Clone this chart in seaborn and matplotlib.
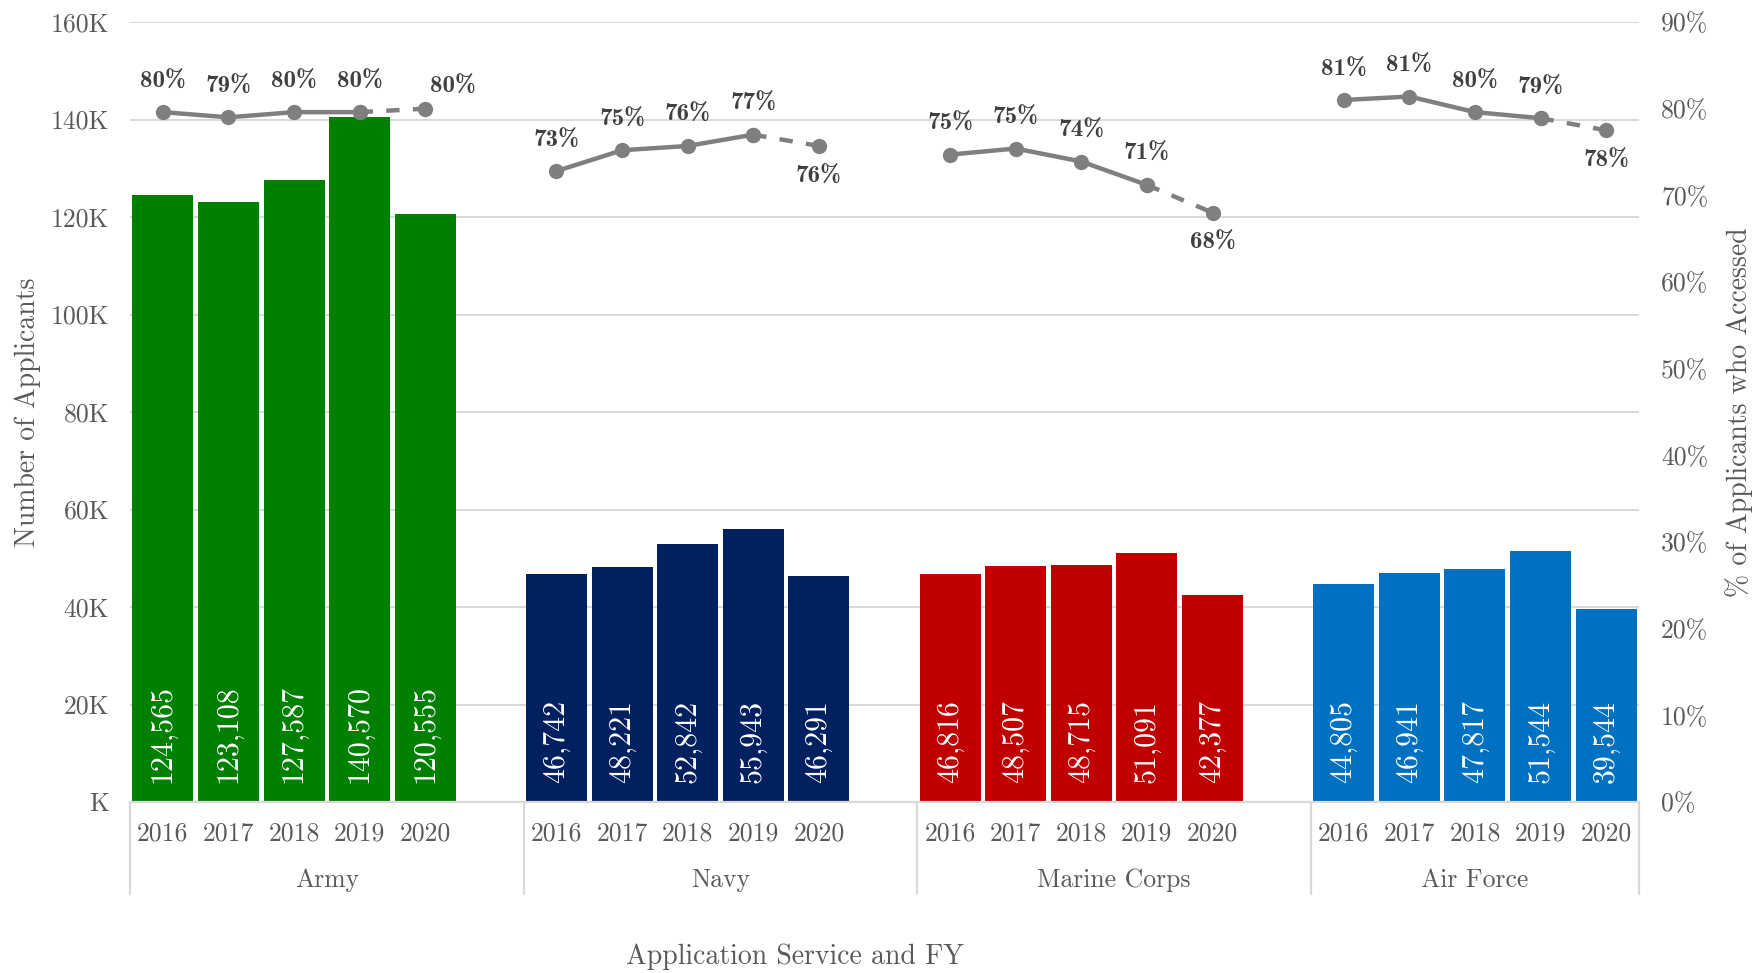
import numpy as np
import pandas as pd
import seaborn as sns
import matplotlib
matplotlib.use("Agg")
import matplotlib.pyplot as plt
import matplotlib.transforms as mtransforms
from matplotlib.patches import FancyBboxPatch

# ---------------- data ----------------
services = ["Army", "Navy", "Marine Corps", "Air Force"]
years = ["2016", "2017", "2018", "2019", "2020"]
army_applicants = [124565, 123108, 127587, 140570, 120555]
navy_applicants = [46742, 48221, 52842, 55943, 46291]
marines_applicants = [46816, 48507, 48715, 51091, 42377]
airforce_applicants = [44805, 46941, 47817, 51544, 39544]
army_pct = [79.6, 79.0, 79.6, 79.6, 80.0]
navy_pct = [72.8, 75.2, 75.7, 77.0, 75.7]
marines_pct = [74.7, 75.4, 73.9, 71.2, 68.0]
airforce_pct = [81.0, 81.4, 79.6, 78.9, 77.5]
left_ticks = [0, 20000, 40000, 60000, 80000, 100000, 120000, 140000, 160000]
left_tick_labels = ["K", "20K", "40K", "60K", "80K", "100K", "120K", "140K", "160K"]
right_ticks = [0, 10, 20, 30, 40, 50, 60, 70, 80, 90]
right_tick_labels = ["0%", "10%", "20%", "30%", "40%", "50%", "60%", "70%", "80%", "90%"]

colors = {"Army": "#008000", "Navy": "#002060", "Marine Corps": "#C00000", "Air Force": "#0070C0"}
applicants = [army_applicants, navy_applicants, marines_applicants, airforce_applicants]
pcts = [army_pct, navy_pct, marines_pct, airforce_pct]

rows = []
for gi, s in enumerate(services):
    for yi, y in enumerate(years):
        rows.append({"service": s, "year": y, "pos": gi * 6 + yi,
                     "applicants": applicants[gi][yi], "pct": pcts[gi][yi]})
df = pd.DataFrame(rows)

# ---------------- style ----------------
sns.set_theme(style="white")
plt.rcParams["font.family"] = ["cmr10", "DejaVu Serif"]
plt.rcParams["axes.formatter.use_mathtext"] = True
TICK_C = "#595959"
LAB_C = "#404040"
GRID_C = "#d9d9d9"

fig = plt.figure(figsize=(17.6, 9.73), dpi=100)
ax = fig.add_axes([130 / 1760, 1 - 802 / 973, (1639 - 130) / 1760, (802 - 22) / 973])

sns.barplot(data=df, x="pos", y="applicants", hue="service", palette=colors,
            native_scale=True, width=0.93, dodge=False, saturation=1,
            legend=False, ax=ax, edgecolor="none", zorder=2)

ax.set_xlim(-0.5, 22.5)
ax.set_ylim(0, 160000)
ax.set_yticks(left_ticks)
ax.set_yticklabels(left_tick_labels, fontsize=18.5, color=TICK_C)
ax.tick_params(axis="y", length=0, pad=15)
ax.yaxis.grid(True, color=GRID_C, lw=1.4, zorder=0)
ax.set_axisbelow(True)
for sp in ["top", "right", "left"]:
    ax.spines[sp].set_visible(False)
ax.spines["bottom"].set_color(GRID_C)
ax.spines["bottom"].set_linewidth(1.6)
ax.spines["bottom"].set_zorder(3)

ax.set_xticks(df["pos"].tolist())
ax.set_xticklabels(df["year"].tolist(), fontsize=18.5, color=TICK_C)
ax.tick_params(axis="x", length=0, pad=14)
ax.set_xlabel("")
ax.set_ylabel("Number of Applicants", fontsize=20, color=TICK_C, labelpad=7)

# bar value labels
for _, r in df.iterrows():
    ax.annotate(f"{r['applicants']:,}", (r["pos"], 0), xytext=(0, 13.5),
                textcoords="offset points", rotation=90, ha="center", va="bottom",
                color="white", fontsize=21.5, zorder=5)

# group separators and labels
trans = mtransforms.blended_transform_factory(ax.transData, ax.transAxes)
bounds = [-0.5, 5.5, 11.5, 17.5, 22.5]
for b in bounds:
    ax.plot([b, b], [0, -92 / 780], transform=trans, color=GRID_C, lw=1.6, clip_on=False)
for gi, s in enumerate(services):
    ax.text((bounds[gi] + bounds[gi + 1]) / 2, -78 / 780, s, transform=trans,
            ha="center", va="center", fontsize=18.5, color=TICK_C)

fig.text(795 / 1760, 1 - 957 / 973, "Application Service and FY", ha="center", va="center",
         fontsize=20, color=TICK_C)

# ---------------- secondary axis ----------------
ax2 = ax.twinx()
ax2.set_ylim(0, 90)
for sp in ax2.spines.values():
    sp.set_visible(False)
LINE_C = "#7f7f7f"
for gi, s in enumerate(services):
    sub = df[df["service"] == s]
    solid = sub.iloc[:4]
    dashed = sub.iloc[3:]
    sns.lineplot(x=solid["pos"], y=solid["pct"], ax=ax2, color=LINE_C, lw=3.2,
                 marker="o", markersize=11, markeredgewidth=0, legend=False, zorder=4)
    sns.lineplot(x=dashed["pos"], y=dashed["pct"], ax=ax2, color=LINE_C, lw=3.2,
                 linestyle=(0, (3, 3)), marker="o", markersize=11, markeredgewidth=0,
                 legend=False, zorder=4)
    for k, (_, r) in enumerate(sub.iterrows()):
        if k == 4 and s != "Army":
            off = (0, -22)
        elif k == 4:
            off = (20, 16)
        else:
            off = (0, 22)
        ax2.annotate(f"{r['pct']:.0f}%", (r["pos"], r["pct"]), xytext=off,
                     textcoords="offset points", ha="center", va="center",
                     fontsize=18, color=LAB_C, family=["cmb10", "DejaVu Serif"],
                     fontweight="bold", zorder=6)

ax2.set_xlim(-0.5, 22.5)
ax2.set_yticks(right_ticks)
ax2.set_yticklabels(right_tick_labels, fontsize=18.5, color=TICK_C)
ax2.tick_params(axis="y", length=0, pad=16)
ax2.set_ylabel("% of Applicants who Accessed", fontsize=20, color=TICK_C, labelpad=12)
ax2.set_xlabel("")

fig.savefig("out.png", dpi=100)
